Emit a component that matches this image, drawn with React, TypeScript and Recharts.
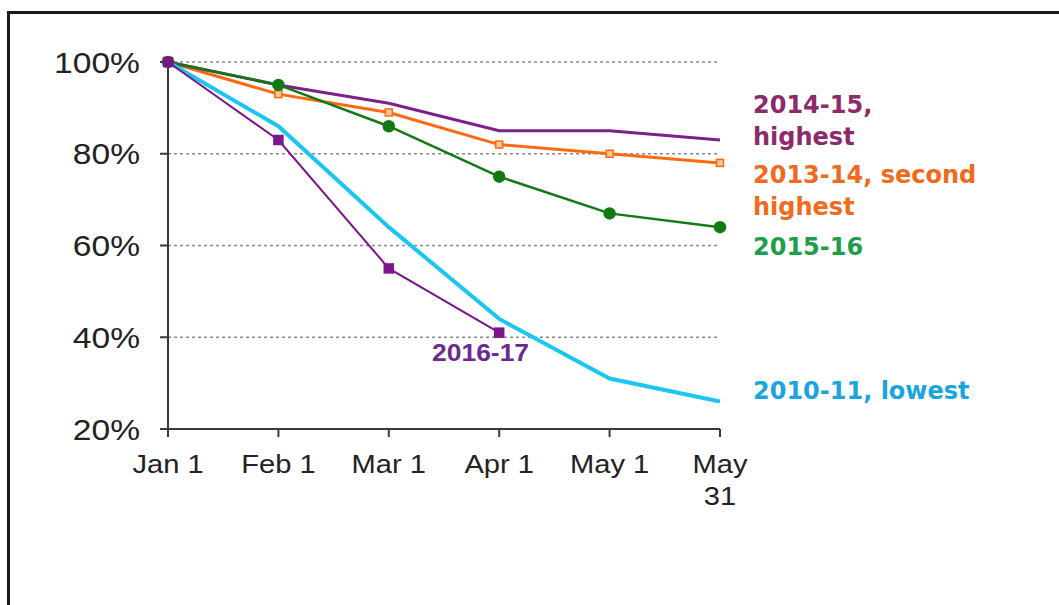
import React from 'react';
import { LineChart, Line, XAxis, YAxis, CartesianGrid } from 'recharts';

const categories = ['Jan 1', 'Feb 1', 'Mar 1', 'Apr 1', 'May 1', 'May 31'];
const season1415 = [100, 95, 91, 85, 85, 83];
const season1314 = [100, 93, 89, 82, 80, 78];
const season1516 = [100, 95, 86, 75, 67, 64];
const season1617 = [100, 83, 55, 41, null, null];
const season1011 = [100, 86, 64, 44, 31, 26];
const yTicks = [20, 40, 60, 80, 100];

const data = categories.map((c, i) => ({
  date: c,
  s1415: season1415[i],
  s1314: season1314[i],
  s1516: season1516[i],
  s1617: season1617[i],
  s1011: season1011[i],
}));

const AXIS = '#3a3a3a';
const TICK_FONT = "'Liberation Sans', Arial, sans-serif";
const LABEL_FONT = "'Comic Sans MS', 'DejaVu Sans', sans-serif";

// the source picture is a bit stretched sideways, so tick text is widened a little
const XTick = (props: any) => {
  const { x, y, payload, index } = props;
  const lines = index === categories.length - 1 ? String(payload.value).split(' ') : [payload.value];
  return (
    <g transform={`translate(${x},${y}) scale(1.12,1)`}>
      <text x={0} y={0} textAnchor="middle" fill="#222" fontSize={26} fontFamily={TICK_FONT}>
        {lines.map((l: string, i: number) => (
          <tspan key={i} x={0} dy={i === 0 ? '0.71em' : '1.2em'}>{l}</tspan>
        ))}
      </text>
    </g>
  );
};

const YTick = (props: any) => {
  const { x, y, payload } = props;
  return (
    <g transform={`translate(${x},${y}) scale(1.12,1)`}>
      <text x={0} y={0} dy="0.355em" textAnchor="end" fill="#222" fontSize={30} fontFamily={TICK_FONT}>
        {`${payload.value}%`}
      </text>
    </g>
  );
};

const squareDot = (size: number, fill: string, stroke: string) => (p: any) => {
  if (p.value == null || p.cy == null) return <g key={p.key} />;
  return <rect key={p.key} x={p.cx - size / 2} y={p.cy - size / 2} width={size} height={size} fill={fill} stroke={stroke} strokeWidth={1.5} />;
};

const labelStyle = (top: number, color: string): React.CSSProperties => ({
  position: 'absolute', left: 753, top, color, fontFamily: LABEL_FONT, fontSize: 24, fontWeight: 'bold',
  lineHeight: '32px', whiteSpace: 'nowrap',
});

export default function App() {
  return (
    <div style={{ position: 'fixed', left: 0, top: 0, width: 1059, height: 605, overflow: 'hidden', background: '#fff' }}>
      {/* frame: only the left and top edges are in view */}
      <div style={{ position: 'absolute', left: 7, top: 11, width: 1200, height: 800, borderLeft: '3px solid #1a1a1a', borderTop: '3px solid #1a1a1a' }} />
      <div style={{ position: 'absolute', left: 0, top: 0 }}>
        <LineChart width={1059} height={605} data={data} margin={{ top: 62, right: 339, bottom: 116, left: 0 }}>
          <CartesianGrid vertical={false} stroke="#8a8a8a" strokeDasharray="3 3" strokeWidth={1.5} />
          <XAxis
            dataKey="date"
            height={60}
            interval={0}
            tick={<XTick />}
            tickSize={8}
            tickMargin={18}
            axisLine={{ stroke: AXIS, strokeWidth: 2 }}
            tickLine={{ stroke: AXIS, strokeWidth: 2 }}
          />
          <YAxis
            width={168}
            domain={[20, 100]}
            ticks={yTicks}
            interval={0}
            tickSize={8}
            tickMargin={20}
            tick={<YTick />}
            axisLine={{ stroke: AXIS, strokeWidth: 2 }}
            tickLine={{ stroke: AXIS, strokeWidth: 2 }}
          />
          <Line type="linear" dataKey="s1314" stroke="#ff6a10" strokeWidth={3} isAnimationActive={false}
            dot={squareDot(7, '#ffc79a', '#ff6a10')} />
          <Line type="linear" dataKey="s1415" stroke="#7d1f8a" strokeWidth={3} dot={false} isAnimationActive={false} />
          <Line type="linear" dataKey="s1516" stroke="#127a12" strokeWidth={2.5} isAnimationActive={false}
            dot={{ r: 5, fill: '#127a12', stroke: '#127a12' }} />
          <Line type="linear" dataKey="s1011" stroke="#1cc6f2" strokeWidth={4} dot={false} isAnimationActive={false} />
          <Line type="linear" dataKey="s1617" stroke="#7b158c" strokeWidth={2} isAnimationActive={false}
            dot={squareDot(9, '#7b158c', '#7b158c')} connectNulls={false} />
        </LineChart>
      </div>
      <div style={labelStyle(89, '#8c2a6c')}>2014-15,<br />highest</div>
      <div style={labelStyle(159, '#f26a1b')}>2013-14, second<br />highest</div>
      <div style={labelStyle(231, '#1f9e4a')}>2015-16</div>
      <div style={labelStyle(375, '#1aa5e0')}>2010-11, lowest</div>
      <div style={{ position: 'absolute', left: 432, top: 340, color: '#6b2a8e', fontFamily: TICK_FONT, fontWeight: 'bold', fontSize: 23, whiteSpace: 'nowrap', transform: 'scaleX(1.15)', transformOrigin: 'left top' }}>2016-17</div>
    </div>
  );
}
